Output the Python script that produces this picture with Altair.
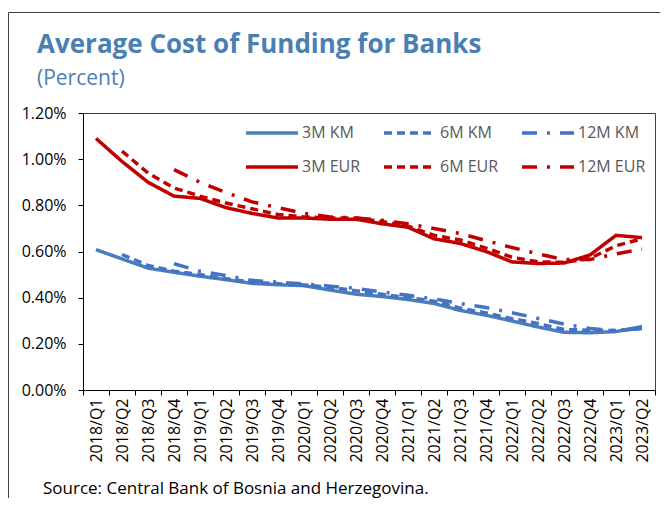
import altair as alt
import pandas as pd

quarters = ["2018/Q1", "2018/Q2", "2018/Q3", "2018/Q4",
            "2019/Q1", "2019/Q2", "2019/Q3", "2019/Q4",
            "2020/Q1", "2020/Q2", "2020/Q3", "2020/Q4",
            "2021/Q1", "2021/Q2", "2021/Q3", "2021/Q4",
            "2022/Q1", "2022/Q2", "2022/Q3", "2022/Q4",
            "2023/Q1", "2023/Q2"]

km_3m = [0.608, 0.568, 0.528, 0.510, 0.493, 0.478, 0.462, 0.456, 0.452, 0.433, 0.415,
         0.405, 0.392, 0.375, 0.345, 0.324, 0.299, 0.273, 0.250, 0.248, 0.253, 0.275]
km_6m = [None, 0.587, 0.540, 0.515, 0.500, 0.482, 0.467, 0.460, 0.455, 0.445, 0.430,
         0.415, 0.400, 0.385, 0.355, 0.334, 0.309, 0.288, 0.262, 0.259, 0.258, 0.266]
km_12m = [None, None, None, 0.547, 0.515, 0.496, 0.475, 0.467, 0.460, 0.450, 0.440,
          0.425, 0.410, 0.395, 0.375, 0.357, 0.335, 0.310, 0.286, 0.266, 0.257, 0.266]
eur_3m = [1.090, 0.990, 0.900, 0.840, 0.830, 0.790, 0.765, 0.745, 0.745, 0.740, 0.740,
          0.720, 0.705, 0.655, 0.635, 0.600, 0.555, 0.548, 0.550, 0.585, 0.670, 0.660]
eur_6m = [None, 1.035, 0.940, 0.875, 0.840, 0.810, 0.785, 0.760, 0.750, 0.745, 0.745,
          0.730, 0.710, 0.670, 0.650, 0.615, 0.575, 0.555, 0.553, 0.570, 0.625, 0.655]
eur_12m = [None, None, None, 0.955, 0.900, 0.855, 0.815, 0.790, 0.765, 0.750, 0.745,
           0.735, 0.720, 0.700, 0.678, 0.647, 0.617, 0.590, 0.565, 0.565, 0.590, 0.610]

# legend is filled column by column, so KM/EUR pairs alternate
series_names = ["3M KM", "3M EUR", "6M KM", "6M EUR", "12M KM", "12M EUR"]
series_values = [km_3m, eur_3m, km_6m, eur_6m, km_12m, eur_12m]
series_colors = ["#4a7ebb", "#c00000", "#4472c4", "#c00000", "#4472c4", "#c00000"]
series_dashes = [[1, 0], [1, 0], [8, 5], [8, 5], [15, 10, 3, 10], [15, 10, 3, 10]]

y_ticks = [0.0, 0.2, 0.4, 0.6, 0.8, 1.0, 1.2]

title_text = "Average Cost of Funding for Banks"
subtitle_text = "(Percent)"
source_text = "Source: Central Bank of Bosnia and Herzegovina."

rows = []
for name, vals in zip(series_names, series_values):
    for q, v in zip(quarters, vals):
        if v is not None:
            rows.append({"quarter": q, "series": name, "value": v})
df = pd.DataFrame(rows)

legend = alt.Legend(
    title=None, orient="none", legendX=161, legendY=5, columns=3,
    symbolType="M-1,0H3", symbolSize=676, symbolStrokeWidth=3.5,
    labelFontSize=16, labelColor="#595959", labelFont="Open Sans",
    labelOffset=28, columnPadding=16, rowPadding=11,
)

lines = alt.Chart(df).mark_line(strokeWidth=3.5).encode(
    x=alt.X("quarter:N", sort=quarters,
            scale=alt.Scale(type="band", paddingInner=0, paddingOuter=0),
            axis=alt.Axis(title=None, labelAngle=-90, tickBand="extent", tickSize=5,
                          labelFontSize=16, labelColor="#000000", domainColor="#000000",
                          tickColor="#000000", labelPadding=3)),
    y=alt.Y("value:Q", scale=alt.Scale(domain=[0, 1.2], nice=False),
            axis=alt.Axis(title=None, values=y_ticks, grid=False, tickSize=5,
                          labelExpr="format(datum.value, '.2f') + '%'",
                          labelFontSize=16, labelColor="#000000", domainColor="#000000",
                          tickColor="#000000", labelPadding=12)),
    color=alt.Color("series:N", sort=series_names,
                    scale=alt.Scale(domain=series_names, range=series_colors), legend=legend),
    strokeDash=alt.StrokeDash("series:N", sort=series_names,
                              scale=alt.Scale(domain=series_names, range=series_dashes), legend=legend),
)

frame = alt.Chart(alt.Data(values=[{}])).mark_rect(filled=False, stroke="#404040", strokeWidth=1).encode(
    x=alt.value(-74.5), x2=alt.value(700), y=alt.value(-100.5), y2=alt.value(600)
)

title = alt.Chart(pd.DataFrame({"t": [title_text]})).mark_text(
    align="left", baseline="alphabetic", fontSize=26, fontWeight="bold",
    font="Open Sans", color="#4a7fb4"
).encode(text="t:N", x=alt.value(-46), y=alt.value(-60))

subtitle = alt.Chart(pd.DataFrame({"t": [subtitle_text]})).mark_text(
    align="left", baseline="alphabetic", fontSize=21,
    font="Open Sans", color="#4a7fb4"
).encode(text="t:N", x=alt.value(-46), y=alt.value(-28))

source = alt.Chart(pd.DataFrame({"t": [source_text]})).mark_text(
    align="left", baseline="alphabetic", fontSize=17,
    font="Open Sans", color="#000000"
).encode(text="t:N", x=alt.value(-40), y=alt.value(381))

chart = alt.layer(frame, lines, title, subtitle, source).properties(
    width=572, height=277,
    padding={"left": 75, "top": 105, "right": 5, "bottom": 108},
    autosize=alt.AutoSizeParams(type="none"),
).configure(font="Open Sans").configure_view(stroke="#404040", strokeWidth=1)

chart.save("out.html", embed_options={"renderer": "svg", "actions": False})
